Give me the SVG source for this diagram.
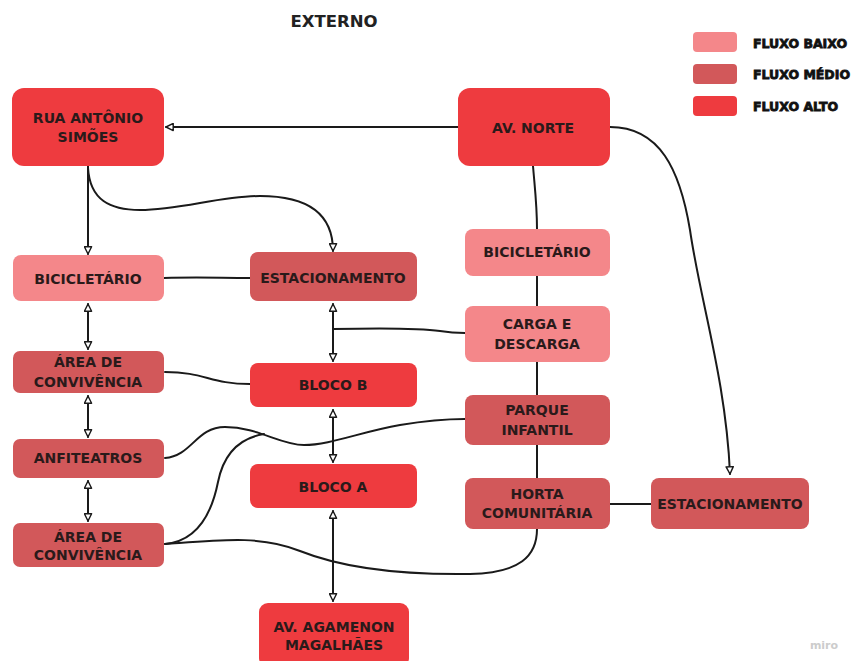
<svg xmlns="http://www.w3.org/2000/svg" width="851" height="661" viewBox="0 0 851 661">
  <defs>
    <marker id="arrow" viewBox="0 0 10 10" refX="9" refY="5" markerWidth="9" markerHeight="9" markerUnits="userSpaceOnUse" orient="auto-start-reverse">
      <path d="M1,1 L9,5 L1,9 Z" fill="#ffffff" stroke="#1a1a1a" stroke-width="1.6" stroke-linejoin="round"/>
    </marker>
  </defs>
  <style>
    .alto { fill: #ee3b3f; }
    .medio { fill: #d2585a; }
    .baixo { fill: #f4878a; }
    .lbl { font-family: "DejaVu Sans", "Liberation Sans", sans-serif; font-weight: bold; font-size: 14px; fill: #2a1a1a; text-anchor: middle; }
    .leg { font-family: "DejaVu Sans", "Liberation Sans", sans-serif; font-weight: bold; font-size: 12.5px; fill: #111111; stroke: #111111; stroke-width: 0.8; }
    .title { font-family: "DejaVu Sans", "Liberation Sans", sans-serif; font-weight: bold; font-size: 16.5px; fill: #222222; text-anchor: middle; }
    .edge { fill: none; stroke: #1a1a1a; stroke-width: 2; stroke-linecap: round; }
    .arr { marker-end: url(#arrow); }
    .both { marker-start: url(#arrow); marker-end: url(#arrow); }
  </style>

  <rect width="851" height="661" fill="#ffffff"/>

  <text class="title" x="334" y="27">EXTERNO</text>

  <!-- legend -->
  <g id="legend">
    <rect class="baixo" x="693" y="32" width="44" height="20" rx="4"/>
    <rect class="medio" x="693" y="64" width="44" height="20" rx="4"/>
    <rect class="alto" x="693" y="96" width="44" height="20" rx="4"/>
    <text class="leg" x="753" y="48">FLUXO BAIXO</text>
    <text class="leg" x="753" y="79">FLUXO MÉDIO</text>
    <text class="leg" x="753" y="111">FLUXO ALTO</text>
  </g>

  <!-- connectors -->
  <g id="connectors">
    <path class="edge arr" d="M458,127 L166,127"/>
    <path class="edge arr" d="M88,166 L88,254"/>
    <path class="edge arr" d="M88,168 C90,200 110,210 140,210 C180,210 220,196 260,196 C310,196 333,215 333,251"/>
    <path class="edge" d="M164,278 C200,277 220,278 250,278"/>
    <path class="edge both" d="M88,304 L88,349"/>
    <path class="edge" d="M165,372 C205,372 210,384 250,384"/>
    <path class="edge both" d="M333,304 L333,361"/>
    <path class="edge" d="M333,329 C380,328 420,328 440,331 C452,333 458,333 465,333"/>
    <path class="edge both" d="M88,396 L88,437"/>
    <path class="edge both" d="M333,410 L333,462"/>
    <path class="edge both" d="M88,481 L88,521"/>
    <path class="edge both" d="M333,511 L333,601"/>
    <path class="edge" d="M533,166 C535,190 537,205 537,229"/>
    <path class="edge" d="M537,276 L537,306"/>
    <path class="edge" d="M537,362 L537,395"/>
    <path class="edge" d="M537,445 L537,478"/>
    <path class="edge" d="M610,504 L651,504"/>
    <path class="edge arr" d="M610,127 C660,127 680,170 690,230 C700,300 726,380 730,474"/>
    <path class="edge" d="M165,458 C192,456 196,427 225,427 C258,427 280,445 304,445 C330,445 360,432 400,425 C430,420 450,419 465,419"/>
    <path class="edge" d="M165,544 C198,541 212,512 218,482 C224,452 240,438 264,434"/>
    <path class="edge" d="M165,544 C220,540 262,535 300,551 C340,567 400,575 470,574 C520,573 537,556 537,529"/>
  </g>

  <!-- nodes -->
  <g id="rua-antonio-simoes">
    <rect class="alto" x="12" y="88" width="152" height="78" rx="12"/>
    <text class="lbl" x="88" y="123">RUA ANTÔNIO</text>
    <text class="lbl" x="88" y="142">SIMÕES</text>
  </g>
  <g id="av-norte">
    <rect class="alto" x="458" y="88" width="152" height="78" rx="12"/>
    <text class="lbl" x="533" y="133">AV. NORTE</text>
  </g>
  <g id="bicicletario-1">
    <rect class="baixo" x="13" y="255" width="151" height="46" rx="8"/>
    <text class="lbl" x="88" y="284">BICICLETÁRIO</text>
  </g>
  <g id="estacionamento-1">
    <rect class="medio" x="250" y="252" width="167" height="49" rx="8"/>
    <text class="lbl" x="333" y="283">ESTACIONAMENTO</text>
  </g>
  <g id="area-convivencia-1">
    <rect class="medio" x="13" y="351" width="151" height="42" rx="7"/>
    <text class="lbl" x="88" y="367">ÁREA DE</text>
    <text class="lbl" x="88" y="387">CONVIVÊNCIA</text>
  </g>
  <g id="bloco-b">
    <rect class="alto" x="250" y="363" width="167" height="44" rx="8"/>
    <text class="lbl" x="333" y="390">BLOCO B</text>
  </g>
  <g id="anfiteatros">
    <rect class="medio" x="13" y="439" width="151" height="39" rx="7"/>
    <text class="lbl" x="88" y="463">ANFITEATROS</text>
  </g>
  <g id="bloco-a">
    <rect class="alto" x="250" y="464" width="167" height="44" rx="8"/>
    <text class="lbl" x="333" y="492">BLOCO A</text>
  </g>
  <g id="area-convivencia-2">
    <rect class="medio" x="13" y="523" width="151" height="44" rx="7"/>
    <text class="lbl" x="88" y="542">ÁREA DE</text>
    <text class="lbl" x="88" y="560">CONVIVÊNCIA</text>
  </g>
  <g id="av-agamenon-magalhaes">
    <rect class="alto" x="259" y="603" width="150" height="64" rx="9"/>
    <text class="lbl" x="334" y="632">AV. AGAMENON</text>
    <text class="lbl" x="334" y="650">MAGALHÃES</text>
  </g>
  <g id="bicicletario-2">
    <rect class="baixo" x="465" y="229" width="145" height="47" rx="8"/>
    <text class="lbl" x="537" y="257">BICICLETÁRIO</text>
  </g>
  <g id="carga-descarga">
    <rect class="baixo" x="465" y="306" width="145" height="56" rx="8"/>
    <text class="lbl" x="537" y="329">CARGA E</text>
    <text class="lbl" x="537" y="349">DESCARGA</text>
  </g>
  <g id="parque-infantil">
    <rect class="medio" x="465" y="395" width="145" height="50" rx="8"/>
    <text class="lbl" x="537" y="415">PARQUE</text>
    <text class="lbl" x="537" y="435">INFANTIL</text>
  </g>
  <g id="horta-comunitaria">
    <rect class="medio" x="465" y="478" width="145" height="51" rx="8"/>
    <text class="lbl" x="537" y="499">HORTA</text>
    <text class="lbl" x="537" y="518">COMUNITÁRIA</text>
  </g>
  <g id="estacionamento-2">
    <rect class="medio" x="651" y="478" width="158" height="51" rx="8"/>
    <text class="lbl" x="730" y="509">ESTACIONAMENTO</text>
  </g>

  <text x="824" y="649" font-family="DejaVu Sans, sans-serif" font-weight="bold" font-size="11" fill="#cccccc" text-anchor="middle">miro</text>
</svg>
